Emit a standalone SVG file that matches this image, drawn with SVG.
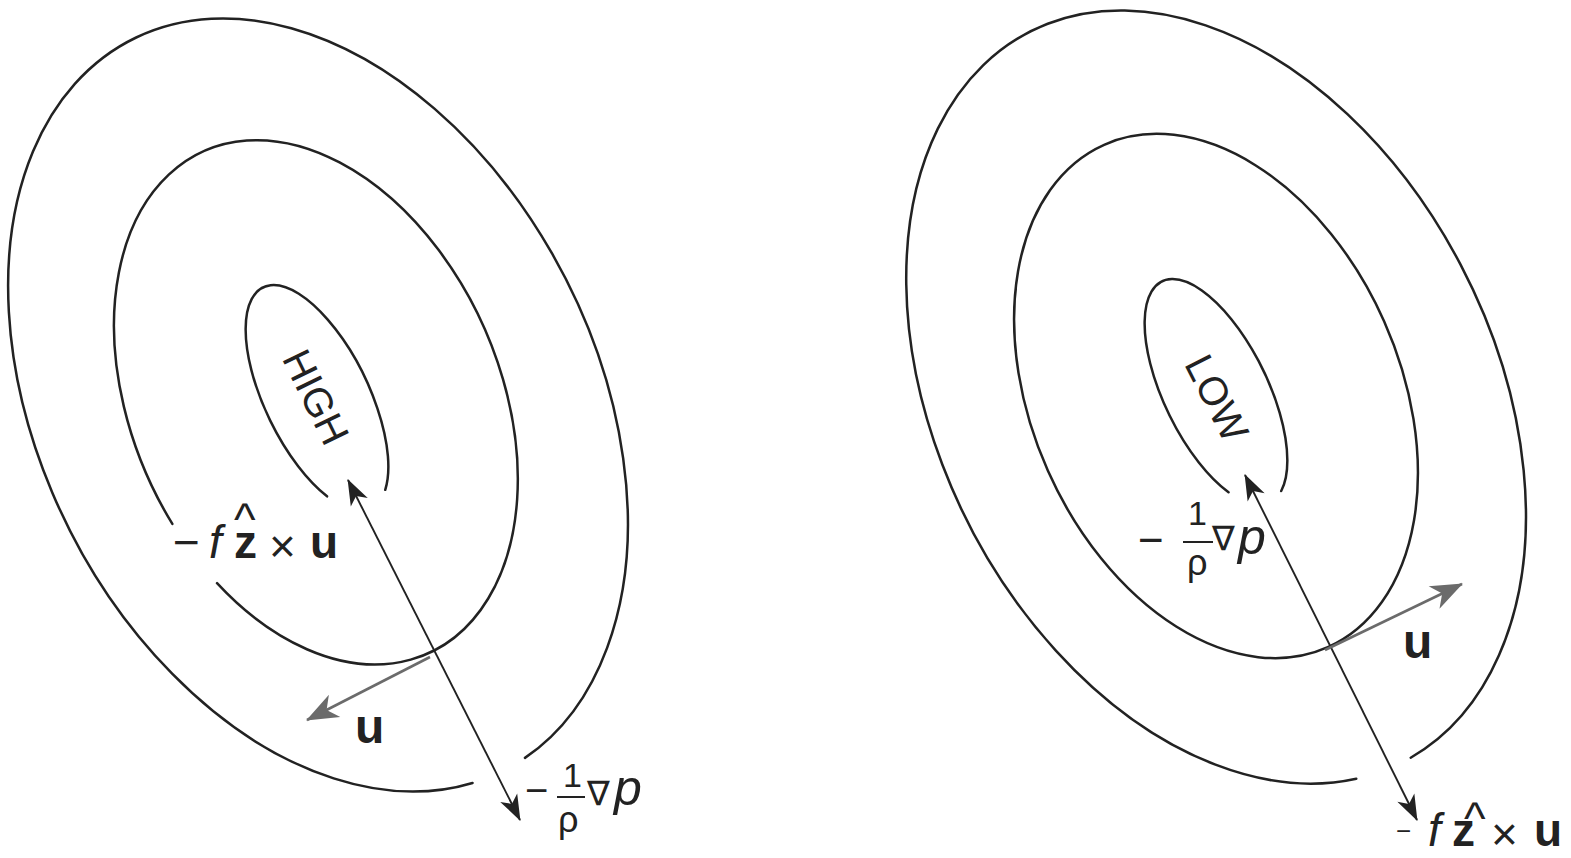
<svg xmlns="http://www.w3.org/2000/svg" width="1571" height="858" viewBox="0 0 1571 858">
<style>
.iso{fill:none;stroke:#222;stroke-width:2.5;stroke-linecap:round}
.k{stroke:#222;stroke-width:1.9;fill:none}
.g{stroke:#6b6b6b;stroke-width:2.6;fill:none}
.t{font-family:"Liberation Sans",Arial,sans-serif;fill:#222}
.b{font-weight:bold}
.i{font-style:italic}
.m{font-family:"DejaVu Sans","Liberation Sans",sans-serif}
.bar{stroke:#222;stroke-width:2}
</style>
<defs>
<marker id="ak" viewBox="-27 -11 29 22" refX="0" refY="0" markerWidth="29" markerHeight="22" markerUnits="userSpaceOnUse" orient="auto-start-reverse"><path d="M1,0 L-25,-9.5 L-18,0 L-25,9.5 Z" fill="#222"/></marker>
<marker id="ag" viewBox="-33 -14 35 28" refX="0" refY="0" markerWidth="35" markerHeight="28" markerUnits="userSpaceOnUse" orient="auto-start-reverse"><path d="M1,0 L-31,-12.5 L-22,0 L-31,12.5 Z" fill="#6b6b6b"/></marker>
</defs>
<g id="high">
<g id="high-outer"><path class="iso" transform="translate(318 405) rotate(-27)" d="M24.2 408.4 A278 410 0 1 0 -33.9 406.9"/></g>
<g id="high-middle"><path class="iso" transform="translate(316 402.5) rotate(-24)" d="M-163.9 124.8 A184 275 0 1 0 -180.6 52.5"/></g>
<g id="high-inner"><path class="iso" transform="translate(317 398) rotate(-26)" d="M21.1 112.4 A52 123 0 1 0 -34.1 92.8"/>
<text class="t" font-size="40" text-anchor="middle" transform="translate(316 397) rotate(64)" y="14">HIGH</text></g>
<g id="high-coriolis-label">
<text class="t" font-size="46"><tspan x="173" y="558">−</tspan><tspan class="i" x="209" y="558">f</tspan><tspan x="234" y="535">^</tspan><tspan class="b" x="234" y="558">z</tspan><tspan x="269" y="562">×</tspan><tspan class="b" x="310" y="558">u</tspan></text>
</g>
<g id="high-u-label"><text class="t b" font-size="48" x="355" y="743" fill="#333">u</text></g>
<g id="high-pgf-label">
<text class="t" font-size="40" x="525" y="804">−</text>
<text class="t" font-size="34" x="563" y="787">1</text>
<line class="bar" x1="557" y1="797" x2="585" y2="797"/>
<text class="t" font-size="36" x="558" y="832">ρ</text>
<text class="t m" font-size="34" x="587" y="805">∇</text>
<text class="t i" font-size="50" x="614" y="805">p</text>
</g>
</g>
<g id="low">
<g id="low-outer"><path class="iso" transform="translate(1216 397) rotate(-27)" d="M9.7 409.8 A278 410 0 1 0 -48.3 403.8"/></g>
<g id="low-middle"><ellipse class="iso" cx="0" cy="0" rx="184" ry="275" transform="translate(1216 396) rotate(-24)"/></g>
<g id="low-inner"><path class="iso" transform="translate(1216 392) rotate(-26)" d="M15.2 117.6 A52 123 0 1 0 -32.7 95.6"/>
<text class="t" font-size="40" text-anchor="middle" transform="translate(1217 398) rotate(63)" y="14">LOW</text></g>
<g id="low-pgf-label">
<text class="t" font-size="44" x="1138" y="555">−</text>
<text class="t" font-size="34" x="1188" y="525">1</text>
<line class="bar" x1="1183" y1="542" x2="1213" y2="542"/>
<text class="t" font-size="36" x="1187" y="575">ρ</text>
<text class="t m" font-size="34" x="1212" y="550">∇</text>
<text class="t i" font-size="50" x="1238" y="554">p</text>
</g>
<g id="low-u-label"><text class="t b" font-size="48" x="1403" y="658" fill="#333">u</text></g>
<g id="low-coriolis-label">
<text class="t" font-size="46"><tspan font-size="26" x="1396" y="840">−</tspan><tspan class="i" x="1428" y="846">f</tspan><tspan x="1464" y="834">^</tspan><tspan class="b" x="1452" y="846">z</tspan><tspan x="1491" y="850">×</tspan><tspan class="b" x="1534" y="846">u</tspan></text>
</g>
</g>
<g id="connectors">
<line class="k" x1="348" y1="480" x2="520" y2="820" marker-start="url(#ak)" marker-end="url(#ak)"/>
<line class="g" x1="430" y1="657" x2="307" y2="720" marker-end="url(#ag)"/>
<line class="k" x1="1245" y1="475" x2="1417" y2="820" marker-start="url(#ak)" marker-end="url(#ak)"/>
<line class="g" x1="1325" y1="650" x2="1462" y2="584" marker-end="url(#ag)"/>
</g>
</svg>
